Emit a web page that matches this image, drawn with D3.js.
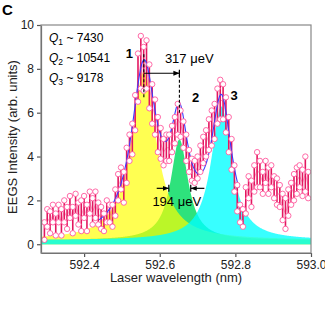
<!DOCTYPE html>
<html>
<head>
<meta charset="utf-8">
<script src="https://cdn.jsdelivr.net/npm/d3@7"></script>
<style>
  body { margin: 0; background: #fff; }
  text { font-family: "Liberation Sans", Arial, sans-serif; }
</style>
</head>
<body>
<div id="chart"></div>
<script>
// measured points: wavelength (nm), intensity, half error bar
var wavelength = [592.295, 592.3025, 592.310, 592.3175, 592.325, 592.3325, 592.340, 592.3475, 592.355, 592.3625,
    592.370, 592.3775, 592.385, 592.3925, 592.400, 592.4075, 592.415, 592.4225, 592.430, 592.4375,
    592.445, 592.4525, 592.460, 592.4675, 592.475, 592.4825, 592.490, 592.4975, 592.505, 592.5125,
    592.520, 592.5275, 592.535, 592.5425, 592.550, 592.5575, 592.565, 592.5725, 592.580, 592.5875,
    592.595, 592.6025, 592.610, 592.6175, 592.625, 592.6325, 592.640, 592.6475, 592.655, 592.6625,
    592.670, 592.6775, 592.685, 592.6925, 592.700, 592.7075, 592.715, 592.7225, 592.730, 592.7375,
    592.745, 592.7525, 592.760, 592.7675, 592.775, 592.7825, 592.790, 592.7975, 592.805, 592.8125,
    592.820, 592.8275, 592.835, 592.8425, 592.850, 592.8575, 592.865, 592.8725, 592.880, 592.8875,
    592.895, 592.9025, 592.910, 592.9175, 592.925, 592.9325, 592.940, 592.9475, 592.955, 592.9625,
    592.970, 592.9775, 592.985, 592.9925];
var intensity = [0.6, 1.2, 1.0, 1.4, 0.9, 1.4, 1.0, 1.5, 1.2, 1.7,
    1.1, 1.8, 1.4, 1.3, 1.7, 1.2, 1.9, 1.5, 1.8, 1.4,
    1.2, 1.0, 1.5, 1.4, 1.3, 1.9, 2.6, 3.0, 2.6, 3.6,
    4.4, 4.8, 6.0, 7.6, 8.3, 8.0, 8.2, 7.2, 6.4, 5.8,
    5.0, 4.6, 4.2, 4.4, 4.4, 4.8, 5.2, 5.7, 5.5, 5.0,
    4.4, 3.8, 3.4, 3.3, 3.5, 3.9, 4.3, 4.6, 5.0, 5.3,
    5.6, 6.3, 6.6, 6.5, 5.9, 5.0, 4.1, 3.0, 2.1, 1.4,
    1.2, 2.0, 2.6, 2.3, 3.0, 3.4, 3.2, 2.8, 3.3, 2.9,
    3.1, 2.6, 2.4, 2.2, 1.7, 1.4, 1.9, 2.3, 2.6, 2.9,
    3.1, 2.8, 3.2, 2.7];
var errHalf = [0.4, 0.4, 0.5, 0.4, 0.5, 0.4, 0.6, 0.5, 0.5, 0.5,
    0.6, 0.5, 0.5, 0.7, 0.5, 0.6, 0.5, 0.6, 0.6, 0.5,
    0.5, 0.4, 0.5, 0.4, 0.5, 0.6, 0.6, 0.5, 0.7, 0.8,
    0.6, 0.7, 0.8, 1.1, 1.2, 1.0, 1.1, 1.0, 0.9, 0.8,
    0.8, 0.7, 0.6, 0.6, 0.6, 0.6, 0.6, 0.7, 0.6, 0.6,
    0.6, 0.5, 0.5, 0.5, 0.5, 0.6, 0.6, 0.6, 0.7, 0.8,
    0.8, 0.8, 0.9, 0.8, 0.8, 0.8, 0.7, 0.6, 0.6, 0.4,
    0.4, 0.6, 0.5, 0.6, 0.6, 0.8, 0.6, 0.5, 0.5, 0.6,
    0.5, 0.5, 0.6, 0.5, 0.6, 0.7, 0.6, 0.5, 0.6, 0.6,
    0.5, 0.6, 0.8, 0.6];

// Lorentzian fit components (peaks 1, 2, 3)
var peakCenter = [592.558, 592.652, 592.763];
var peakHeight = [7.7, 4.6, 6.1];
var peakHalfWidth = [0.040, 0.028, 0.033];
var fitBaseline = 0.18;
var fitRange = [592.44, 592.81];
var peakColors = ["#ffff00", "#2ee27c", "#00ffff"];
var peakOpacity = [0.68, 1, 0.78];
var drawOrder = [1, 0, 2];

var xTicks = [592.4, 592.6, 592.8, 593.0];
var yTicks = [0, 2, 4, 6, 8, 10];
var qLabels = [["1", "7430"], ["2", "10541"], ["3", "9178"]];

var W = 325, H = 325;
var margin = {top: 25, right: 14, bottom: 72, left: 41};
var width = W - margin.left - margin.right;
var height = H - margin.top - margin.bottom;

var xScale = d3.scaleLinear().domain([592.286, 593.0]).range([0, width]);
var yScale = d3.scaleLinear().domain([-0.4, 10]).range([height, 0]);

function lorentz(i, x) {
    var d = (x - peakCenter[i]) / peakHalfWidth[i];
    return peakHeight[i] / (1 + d * d);
}

var svg = d3.select("#chart").append("svg")
    .attr("width", W).attr("height", H);

svg.append("text").attr("x", 2).attr("y", 15)
    .style("font-size", "15px").style("font-weight", "bold").text("C");

var g = svg.append("g")
    .attr("transform", "translate(" + margin.left + "," + margin.top + ")");

g.append("clipPath").attr("id", "clip")
    .append("rect").attr("width", width).attr("height", height);

var plot = g.append("g").attr("clip-path", "url(#clip)");

// grid of x values used to draw the model curves
var xs = d3.range(0, 701).map(function(i) { return 592.286 + i * (593.0 - 592.286) / 700; });

drawOrder.forEach(function(i) {
    var area = d3.area()
        .x(function(d) { return xScale(d); })
        .y0(yScale(0))
        .y1(function(d) { return yScale(fitBaseline + lorentz(i, d)); });
    plot.append("path")
        .datum(xs)
        .attr("d", area)
        .attr("fill", peakColors[i])
        .attr("fill-opacity", peakOpacity[i]);
});

// thin connecting line through measured points
var line = d3.line()
    .x(function(d, i) { return xScale(wavelength[i]); })
    .y(function(d) { return yScale(d); });
plot.append("path").datum(intensity)
    .attr("d", line).attr("fill", "none")
    .attr("stroke", "#ff8fbf").attr("stroke-width", 0.8);

// error bars
plot.selectAll(".err").data(intensity).enter().append("line")
    .attr("x1", function(d, i) { return xScale(wavelength[i]); })
    .attr("x2", function(d, i) { return xScale(wavelength[i]); })
    .attr("y1", function(d, i) { return yScale(d - errHalf[i]); })
    .attr("y2", function(d, i) { return yScale(d + errHalf[i]); })
    .attr("stroke", "#e3165f").attr("stroke-width", 1.6);

// fitted sum
var fitX = xs.filter(function(d) { return d >= fitRange[0] && d <= fitRange[1]; });
var fitLine = d3.line()
    .x(function(d) { return xScale(d); })
    .y(function(d) { return yScale(fitBaseline + lorentz(0, d) + lorentz(1, d) + lorentz(2, d)); });
plot.append("path").datum(fitX)
    .attr("d", fitLine).attr("fill", "none")
    .attr("stroke", "#3b3bff").attr("stroke-width", 1.1);

// circles at both ends of each bar
var ends = [];
intensity.forEach(function(d, i) {
    ends.push([wavelength[i], d + errHalf[i]]);
    ends.push([wavelength[i], d - errHalf[i]]);
});
plot.selectAll(".pt").data(ends).enter().append("circle")
    .attr("cx", function(d) { return xScale(d[0]); })
    .attr("cy", function(d) { return yScale(d[1]); })
    .attr("r", 2.7)
    .attr("fill", "#fff")
    .attr("stroke", "#ff5a9e").attr("stroke-width", 0.9);

// peak annotations
var dashY = [[6.7, 8.7], [6.0, 7.9]];
[0, 1].forEach(function(i) {
    g.append("line")
        .attr("x1", xScale(peakCenter[i])).attr("x2", xScale(peakCenter[i]))
        .attr("y1", yScale(dashY[i][0])).attr("y2", yScale(dashY[i][1]))
        .attr("stroke", "#000").attr("stroke-width", 1.1)
        .attr("stroke-dasharray", "3,2");
});

var defs = svg.append("defs");
defs.append("marker").attr("id", "arr")
    .attr("viewBox", "0 0 10 10").attr("refX", 10).attr("refY", 5)
    .attr("markerWidth", 5).attr("markerHeight", 5).attr("orient", "auto")
    .append("path").attr("d", "M0,1L10,5L0,9Z").attr("fill", "#000");

function arrowTo(xFrom, xTo, yv) {
    g.append("line")
        .attr("x1", xScale(xFrom)).attr("x2", xScale(xTo))
        .attr("y1", yScale(yv)).attr("y2", yScale(yv))
        .attr("stroke", "#000").attr("stroke-width", 1.2)
        .attr("marker-end", "url(#arr)");
    g.append("line")
        .attr("x1", xScale(xTo)).attr("x2", xScale(xTo))
        .attr("y1", yScale(yv) - 3.5).attr("y2", yScale(yv) + 3.5)
        .attr("stroke", "#000").attr("stroke-width", 1.2);
}

// 317 µeV splitting between peak 1 and peak 2
arrowTo(peakCenter[0], peakCenter[1], 7.8);
g.append("text")
    .attr("x", xScale(592.678)).attr("y", yScale(8.25))
    .attr("text-anchor", "middle").style("font-size", "13px")
    .text("317 μeV");

// 194 µeV linewidth of peak 2
arrowTo(592.592, 592.624, 2.55);
arrowTo(592.718, 592.682, 2.55);
g.append("text")
    .attr("x", xScale(592.645)).attr("y", yScale(1.75))
    .attr("text-anchor", "middle").style("font-size", "13px")
    .text("194 μeV");

var peakLabelPos = [[592.52, 8.5], [592.695, 6.5], [592.797, 6.6]];
peakLabelPos.forEach(function(p, i) {
    g.append("text")
        .attr("x", xScale(p[0])).attr("y", yScale(p[1]))
        .attr("text-anchor", "middle")
        .style("font-size", "13px").style("font-weight", "bold")
        .text(String(i + 1));
});

// Q values
qLabels.forEach(function(q, i) {
    var t = g.append("text")
        .attr("x", 8).attr("y", 17 + i * 20)
        .style("font-size", "12px");
    t.append("tspan").style("font-style", "italic").text("Q");
    t.append("tspan").attr("dy", 3).style("font-size", "8.5px").text(q[0]);
    t.append("tspan").attr("dy", -3).text(" ~ " + q[1]);
});

// axes
var xAxis = g.append("g")
    .attr("transform", "translate(0," + height + ")")
    .call(d3.axisBottom(xScale).tickValues(xTicks).tickFormat(d3.format(".1f")).tickSize(4).tickSizeOuter(0));
var yAxis = g.append("g")
    .call(d3.axisLeft(yScale).tickValues(yTicks).tickFormat(d3.format("d")).tickSize(4).tickSizeOuter(0));

[xAxis, yAxis].forEach(function(a) {
    a.selectAll("path, line").attr("stroke", "#555").attr("stroke-width", 1.2);
    a.selectAll("text").style("font-size", "12px").attr("fill", "#222")
        .style("font-family", "Liberation Sans, Arial, sans-serif");
});

g.append("rect").attr("width", width).attr("height", height)
    .attr("fill", "none").attr("stroke", "#888").attr("stroke-width", 1.2);

g.append("text")
    .attr("x", width / 2).attr("y", height + 29)
    .attr("text-anchor", "middle").style("font-size", "13px").attr("fill", "#222")
    .text("Laser wavelength (nm)");

g.append("text")
    .attr("transform", "rotate(-90)")
    .attr("x", -height / 2 + 2).attr("y", -24)
    .attr("text-anchor", "middle").style("font-size", "13px").attr("fill", "#222")
    .text("EEGS Intensity (arb. units)");
</script>
</body>
</html>
